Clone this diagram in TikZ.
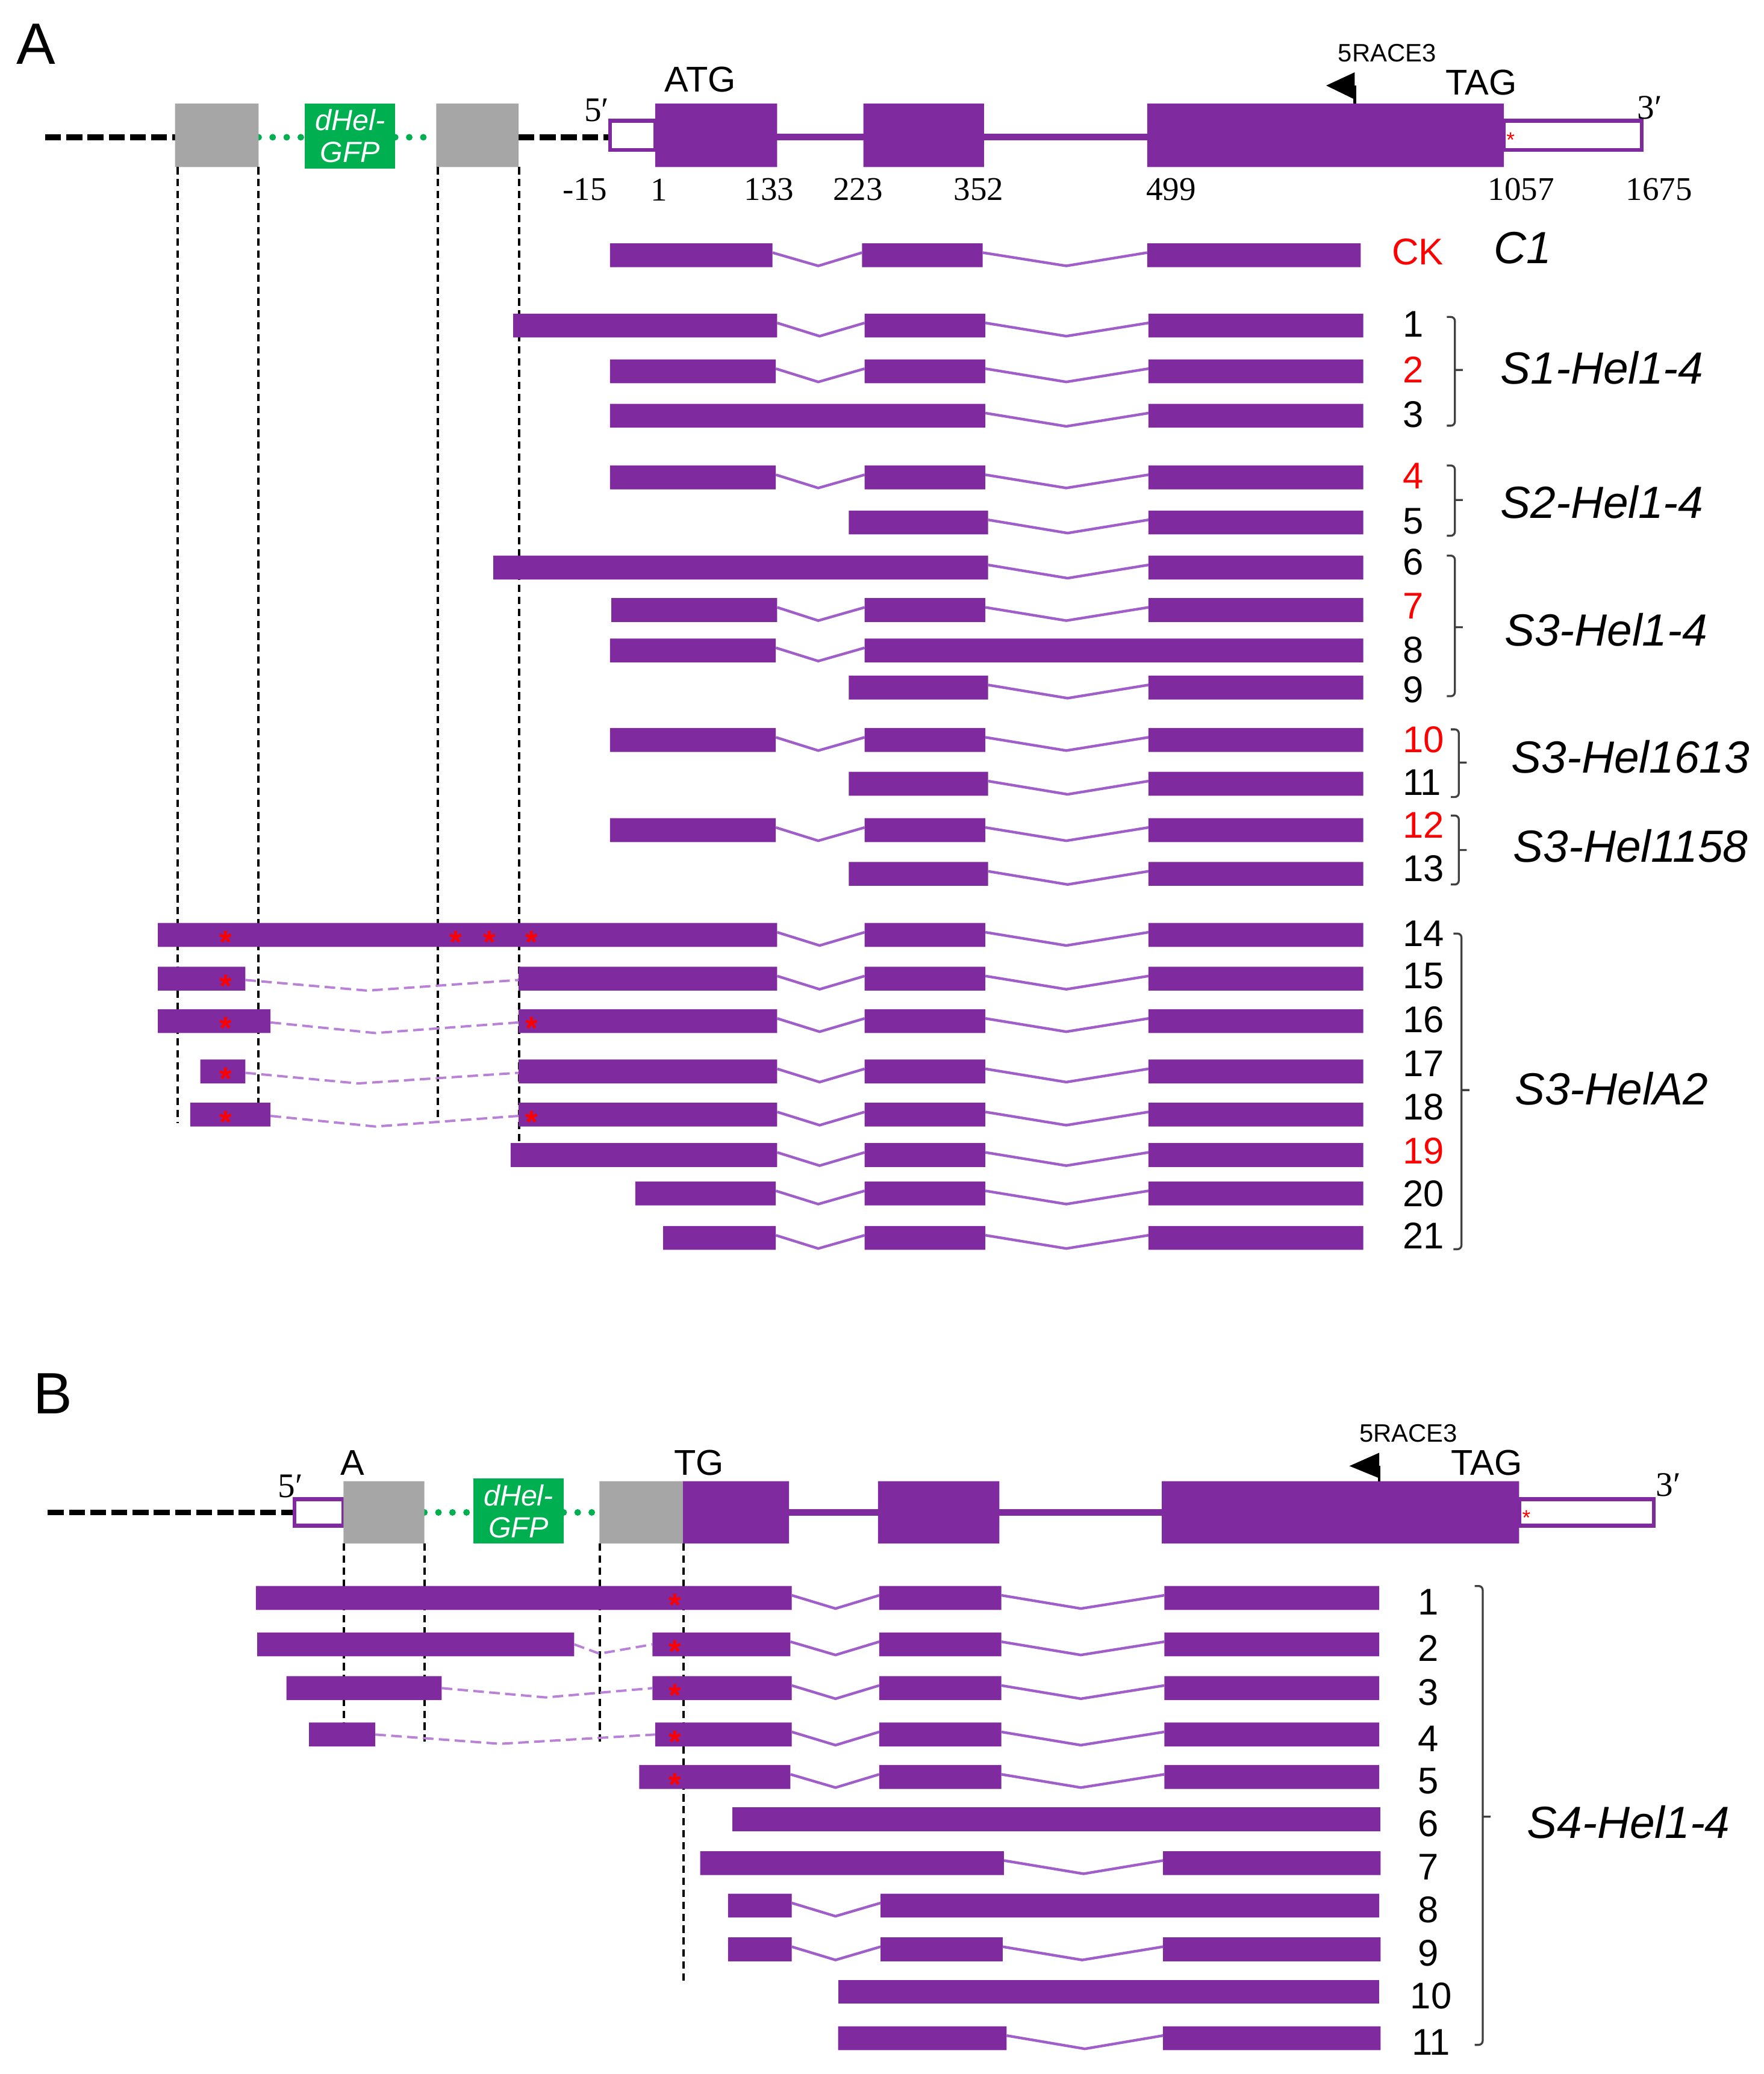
\documentclass[tikz,border=0pt]{standalone}
\usepackage{fontspec}
\setmainfont{Liberation Serif}
\setsansfont{Liberation Sans}

\definecolor{exonpurple}{RGB}{128,42,160}
\definecolor{intronpurple}{RGB}{160,95,200}
\definecolor{skippurple}{RGB}{185,130,215}
\definecolor{cassgrey}{RGB}{166,166,166}
\definecolor{gfpgreen}{RGB}{0,176,80}
\definecolor{markred}{RGB}{255,0,0}

\tikzset{every picture/.style={line width=0.75pt}}
\tikzset{
  exon/.style={fill=exonpurple},
  utr/.style={draw=exonpurple, line width=1.5pt, fill=white},
  geneline/.style={draw=exonpurple, line width=2.5pt},
  intron/.style={draw=intronpurple, line width=1pt},
  skipline/.style={draw=skippurple, line width=0.9pt, dash pattern={on 4pt off 2pt}},
  flank/.style={draw=black, line width=2.25pt, dash pattern={on 6pt off 2pt}},
  linker/.style={draw=gfpgreen, line width=2.5pt, line cap=round, dash pattern={on 0pt off 5.3pt}},
  guide/.style={draw=black, line width=0.9pt, dash pattern={on 2.75pt off 1.75pt}},
  brack/.style={draw=black!75, line width=0.75pt, rounded corners=1.5pt},
  rownum/.style={font=\sffamily\fontsize{14}{14}\selectfont, inner sep=0pt},
  grouplabel/.style={font=\sffamily\itshape\fontsize{17}{17}\selectfont, inner sep=0pt},
  postext/.style={font=\rmfamily\fontsize{12.5}{12.5}\selectfont, inner sep=0pt},
  endtext/.style={font=\rmfamily\fontsize{13}{13}\selectfont, inner sep=0pt},
  codon/.style={font=\sffamily\fontsize{13.5}{13.5}\selectfont, inner sep=0pt},
  primer/.style={font=\sffamily\fontsize{9.5}{9.5}\selectfont, inner sep=0pt},
  panel/.style={font=\sffamily\fontsize{22}{22}\selectfont, inner sep=0pt},
  gfptext/.style={font=\sffamily\itshape\fontsize{11}{12}\selectfont, text=white, align=center, inner sep=0pt},
  astmark/.style={font=\sffamily\bfseries\fontsize{12}{12}\selectfont, text=markred, inner sep=0pt, anchor=base},
  astsmall/.style={font=\sffamily\fontsize{8}{8}\selectfont, text=markred, inner sep=0pt, anchor=base}
}

\begin{document}
\begin{tikzpicture}[x=0.5pt,y=0.5pt,yscale=-1,xscale=1]
\useasboundingbox (0,0) rectangle (1330,1564);

%%%%%%%%%%%%%%%%%%%%%%%% Panel A
\node[panel] (panelA) at (27,33) {A};

%Gene model A
\draw[flank] (34,103.5) -- (132,103.5) (391,103.5) -- (460,103.5);
\draw[linker] (195,103.5) -- (230,103.5) (298,103.5) -- (329,103.5);
\fill[cassgrey] (132,78) rectangle (195,126) (329,78) rectangle (391,126);
\fill[gfpgreen] (230,78) rectangle (298,127);
\node[gfptext] (gfpA) at (264,102.5) {dHel-\\GFP};
\draw[utr] (460,91) rectangle (494,113);
\draw[geneline] (586,103.5) -- (651,103.5) (742,103.5) -- (865,103.5);
\fill[exon] (494,78) rectangle (586,126) (651,78) rectangle (742,126) (865,78) rectangle (1134,126);
\draw[utr] (1134,91) rectangle (1238,113);
\node[astsmall] (stopA) at (1139,111) {*};
%Primer arrow
\fill (1000,64.5) -- (1021.5,54.5) -- (1021.5,75) -- cycle;
\draw[line width=1pt] (1021.5,64.5) -- (1021.5,78);

% Text Node
\node[endtext] (p5A) at (450,83) {5′};
\node[endtext] (p3A) at (1244,81) {3′};
\node[codon] (atgA) at (528,60) {ATG};
\node[codon] (tagA) at (1117,62) {TAG};
\node[primer] (raceA) at (1046,40) {5RACE3};
\node[postext] (posA1) at (441,143) {-15};
\node[postext] (posA2) at (497,143) {1};
\node[postext] (posA3) at (580,143) {133};
\node[postext] (posA4) at (647,143) {223};
\node[postext] (posA5) at (738,143) {352};
\node[postext] (posA6) at (883,143) {499};
\node[postext] (posA7) at (1147,143) {1057};
\node[postext] (posA8) at (1251,143) {1675};

%Guide lines A
\draw[guide] (134,126) -- (134,847) (195,126) -- (195,847) (330,126) -- (330,847) (391.5,126) -- (391.5,877);

%CK
\fill[exon] (460,183.5) rectangle +(122.5,18) (650,183.5) rectangle +(91,18) (865,183.5) rectangle +(161,18);
\draw[intron] (582.5,190.5) -- +(34.5,10) -- +(67.5,0) (741,190.5) -- +(63,10) -- +(124,0);
%1
\fill[exon] (387,236.5) rectangle +(199,18) (652,236.5) rectangle +(91,18) (866,236.5) rectangle +(162,18);
\draw[intron] (586,243.5) -- +(32,10) -- +(66,0) (743,243.5) -- +(61,10) -- +(123,0);
%2
\fill[exon] (460,271) rectangle +(125,18) (652,271) rectangle +(91,18) (866,271) rectangle +(162,18);
\draw[intron] (585,278) -- +(32,10) -- +(67,0) (743,278) -- +(61,10) -- +(123,0);
%3
\fill[exon] (460,304.5) rectangle +(283,18) (866,304.5) rectangle +(162,18);
\draw[intron] (743,311.5) -- +(61,10) -- +(123,0);
%4
\fill[exon] (460,351) rectangle +(125,18) (652,351) rectangle +(91,18) (866,351) rectangle +(162,18);
\draw[intron] (585,358) -- +(32,10) -- +(67,0) (743,358) -- +(61,10) -- +(123,0);
%5
\fill[exon] (640,385) rectangle +(105,18) (866,385) rectangle +(162,18);
\draw[intron] (745,392) -- +(60,10) -- +(121,0);
%6
\fill[exon] (372,419) rectangle +(373,18) (866,419) rectangle +(162,18);
\draw[intron] (745,426) -- +(60,10) -- +(121,0);
%7
\fill[exon] (461,451) rectangle +(125,18) (652,451) rectangle +(91,18) (866,451) rectangle +(162,18);
\draw[intron] (586,458) -- +(31,10) -- +(66,0) (743,458) -- +(61,10) -- +(123,0);
%8
\fill[exon] (460,481.5) rectangle +(125,18) (652,481.5) rectangle +(376,18);
\draw[intron] (585,488.5) -- +(32,10) -- +(67,0);
%9
\fill[exon] (640,509.5) rectangle +(105,18) (866,509.5) rectangle +(162,18);
\draw[intron] (745,516.5) -- +(60,10) -- +(121,0);
%10
\fill[exon] (460,549) rectangle +(125,18) (652,549) rectangle +(91,18) (866,549) rectangle +(162,18);
\draw[intron] (585,556) -- +(32,10) -- +(67,0) (743,556) -- +(61,10) -- +(123,0);
%11
\fill[exon] (640,582) rectangle +(105,18) (866,582) rectangle +(162,18);
\draw[intron] (745,589) -- +(60,10) -- +(121,0);
%12
\fill[exon] (460,617) rectangle +(125,18) (652,617) rectangle +(91,18) (866,617) rectangle +(162,18);
\draw[intron] (585,624) -- +(32,10) -- +(67,0) (743,624) -- +(61,10) -- +(123,0);
%13
\fill[exon] (640,650) rectangle +(105,18) (866,650) rectangle +(162,18);
\draw[intron] (745,657) -- +(60,10) -- +(121,0);
%14
\fill[exon] (119,696) rectangle +(467,18) (652,696) rectangle +(91,18) (866,696) rectangle +(162,18);
\draw[intron] (586,703) -- +(32,10) -- +(66,0) (743,703) -- +(61,10) -- +(123,0);
\node[astmark] (a14a) at (170,718.8) {*};
\node[astmark] (a14b) at (343.5,718.8) {*};
\node[astmark] (a14c) at (369,718.8) {*};
\node[astmark] (a14d) at (401,718.8) {*};
%15
\fill[exon] (119,729) rectangle +(66,18) (391,729) rectangle +(195,18) (652,729) rectangle +(91,18) (866,729) rectangle +(162,18);
\draw[skipline] (185,739) -- (277,747) -- (391,739);
\draw[intron] (586,736) -- +(32,10) -- +(66,0) (743,736) -- +(61,10) -- +(123,0);
\node[astmark] (a15a) at (170,751.8) {*};
%16
\fill[exon] (119,761) rectangle +(85,18) (391,761) rectangle +(195,18) (652,761) rectangle +(91,18) (866,761) rectangle +(162,18);
\draw[skipline] (204,771) -- (283,779) -- (391,771);
\draw[intron] (586,768) -- +(32,10) -- +(66,0) (743,768) -- +(61,10) -- +(123,0);
\node[astmark] (a16a) at (170,783.8) {*};
\node[astmark] (a16b) at (401,783.8) {*};
%17
\fill[exon] (151,799) rectangle +(34,18) (391,799) rectangle +(195,18) (652,799) rectangle +(91,18) (866,799) rectangle +(162,18);
\draw[skipline] (185,809) -- (270,817) -- (391,809);
\draw[intron] (586,806) -- +(32,10) -- +(66,0) (743,806) -- +(61,10) -- +(123,0);
\node[astmark] (a17a) at (170,821.8) {*};
%18
\fill[exon] (143.5,831.5) rectangle +(60.5,18) (391,831.5) rectangle +(195,18) (652,831.5) rectangle +(91,18) (866,831.5) rectangle +(162,18);
\draw[skipline] (204,841.5) -- (283,849.5) -- (391,841.5);
\draw[intron] (586,838.5) -- +(32,10) -- +(66,0) (743,838.5) -- +(61,10) -- +(123,0);
\node[astmark] (a18a) at (170,854.3) {*};
\node[astmark] (a18b) at (401,854.3) {*};
%19
\fill[exon] (385,862) rectangle +(201,18) (652,862) rectangle +(91,18) (866,862) rectangle +(162,18);
\draw[intron] (586,869) -- +(32,10) -- +(66,0) (743,869) -- +(61,10) -- +(123,0);
%20
\fill[exon] (479,891) rectangle +(106,18) (652,891) rectangle +(91,18) (866,891) rectangle +(162,18);
\draw[intron] (585,898) -- +(32,10) -- +(67,0) (743,898) -- +(61,10) -- +(123,0);
%21
\fill[exon] (500,924.5) rectangle +(85,18) (652,924.5) rectangle +(91,18) (866,924.5) rectangle +(162,18);
\draw[intron] (585,931.5) -- +(32,10) -- +(67,0) (743,931.5) -- +(61,10) -- +(123,0);

% Text Node
\node[rownum, text=markred] (ckA) at (1069,190) {CK};
\node[grouplabel] (c1A) at (1148,187) {C1};
\node[rownum, anchor=west] (nA1) at (1057,244.5) {1};
\node[rownum, anchor=west, text=markred] (nA2) at (1057,279) {2};
\node[rownum, anchor=west] (nA3) at (1057,312.5) {3};
\node[rownum, anchor=west, text=markred] (nA4) at (1057,359) {4};
\node[rownum, anchor=west] (nA5) at (1057,393) {5};
\node[rownum, anchor=west] (nA6) at (1057,424) {6};
\node[rownum, anchor=west, text=markred] (nA7) at (1057,457) {7};
\node[rownum, anchor=west] (nA8) at (1057,490) {8};
\node[rownum, anchor=west] (nA9) at (1057,520) {9};
\node[rownum, anchor=west, text=markred] (nA10) at (1057,558) {10};
\node[rownum, anchor=west] (nA11) at (1057,590) {11};
\node[rownum, anchor=west, text=markred] (nA12) at (1057,622) {12};
\node[rownum, anchor=west] (nA13) at (1057,655) {13};
\node[rownum, anchor=west] (nA14) at (1057,704) {14};
\node[rownum, anchor=west] (nA15) at (1057,736) {15};
\node[rownum, anchor=west] (nA16) at (1057,769) {16};
\node[rownum, anchor=west] (nA17) at (1057,802) {17};
\node[rownum, anchor=west] (nA18) at (1057,835) {18};
\node[rownum, anchor=west, text=markred] (nA19) at (1057,868) {19};
\node[rownum, anchor=west] (nA20) at (1057,900) {20};
\node[rownum, anchor=west] (nA21) at (1057,932) {21};

%Brackets A
\draw[brack] (1091,239) -- (1097,239) -- (1097,321) -- (1091,321) (1097,279) -- (1103,279);
\draw[brack] (1091,351) -- (1097,351) -- (1097,404) -- (1091,404) (1097,377) -- (1103,377);
\draw[brack] (1091,419) -- (1097,419) -- (1097,525) -- (1091,525) (1097,473) -- (1103,473);
\draw[brack] (1094,550) -- (1100,550) -- (1100,601) -- (1094,601) (1100,575) -- (1106,575);
\draw[brack] (1094,615) -- (1100,615) -- (1100,667) -- (1094,667) (1100,641) -- (1106,641);
\draw[brack] (1096,704) -- (1102,704) -- (1102,942) -- (1096,942) (1102,822) -- (1108,822);
\node[grouplabel] (s1A) at (1208,277.5) {S1-Hel1-4};
\node[grouplabel] (s2A) at (1208,378.5) {S2-Hel1-4};
\node[grouplabel] (s3A) at (1211,475) {S3-Hel1-4};
\node[grouplabel] (s3bA) at (1229.5,570.5) {S3-Hel1613};
\node[grouplabel] (s3cA) at (1229.5,638) {S3-Hel1158};
\node[grouplabel] (s3dA) at (1215,821) {S3-HelA2};

%%%%%%%%%%%%%%%%%%%%%%%% Panel B
\node[panel] (panelB) at (40,1051) {B};

%Gene model B
\draw[flank] (36,1140.5) -- (222,1140.5);
\draw[linker] (320,1140.5) -- (357,1140.5) (425,1140.5) -- (452,1140.5);
\draw[utr] (222,1130.5) rectangle (259,1150.5);
\fill[cassgrey] (259,1117) rectangle (320,1164) (452,1117) rectangle (515,1164);
\fill[gfpgreen] (357,1115) rectangle (425,1164);
\node[gfptext] (gfpB) at (391,1139.5) {dHel-\\GFP};
\draw[geneline] (595,1140.5) -- (662,1140.5) (753.5,1140.5) -- (876,1140.5);
\fill[exon] (515,1117) rectangle (595,1164) (662,1117) rectangle (753.5,1164) (876,1117) rectangle (1145.5,1164);
\draw[utr] (1145.5,1130.5) rectangle (1247,1150.5);
\node[astsmall] (stopB) at (1151,1150) {*};
%Primer arrow
\fill (1017.5,1105.5) -- (1040,1095.5) -- (1040,1114.7) -- cycle;
\draw[line width=1pt] (1040,1105.5) -- (1040,1117);

% Text Node
\node[endtext] (p5B) at (219,1121) {5′};
\node[endtext] (p3B) at (1258,1120) {3′};
\node[codon] (aB) at (266,1103) {A};
\node[codon] (tgB) at (527,1103) {TG};
\node[codon] (tagB) at (1121,1103) {TAG};
\node[primer] (raceB) at (1062,1081) {5RACE3};

%Guide lines B
\draw[guide] (259.5,1164) -- (259.5,1314) (320,1164) -- (320,1314) (452.5,1164) -- (452.5,1314) (515.5,1164) -- (515.5,1496);

%1
\fill[exon] (193,1196) rectangle +(404,18) (663,1196) rectangle +(92,18) (878,1196) rectangle +(162,18);
\draw[intron] (597,1203) -- +(33,10) -- +(66,0) (755,1203) -- +(60,10) -- +(123,0);
\node[astmark] (b1a) at (509,1218.8) {*};
%2
\fill[exon] (194,1231) rectangle +(239,18) (492,1231) rectangle +(104,18) (663,1231) rectangle +(92,18) (878,1231) rectangle +(162,18);
\draw[skipline] (433,1240) -- (452,1247) -- (492,1240);
\draw[intron] (596,1238) -- +(34,10) -- +(67,0) (755,1238) -- +(60,10) -- +(123,0);
\node[astmark] (b2a) at (509,1253.8) {*};
%3
\fill[exon] (216,1264) rectangle +(117,18) (492,1264) rectangle +(105,18) (663,1264) rectangle +(92,18) (878,1264) rectangle +(162,18);
\draw[skipline] (333,1273) -- (411.5,1280) -- (492,1273);
\draw[intron] (597,1271) -- +(33,10) -- +(66,0) (755,1271) -- +(60,10) -- +(123,0);
\node[astmark] (b3a) at (509,1286.8) {*};
%4
\fill[exon] (233,1299) rectangle +(50,18) (494,1299) rectangle +(103,18) (663,1299) rectangle +(92,18) (878,1299) rectangle +(162,18);
\draw[skipline] (283,1308) -- (377,1315) -- (494,1308);
\draw[intron] (597,1306) -- +(33,10) -- +(66,0) (755,1306) -- +(60,10) -- +(123,0);
\node[astmark] (b4a) at (509,1321.8) {*};
%5
\fill[exon] (482,1331) rectangle +(114,18) (663,1331) rectangle +(92,18) (878,1331) rectangle +(162,18);
\draw[intron] (596,1338) -- +(34,10) -- +(67,0) (755,1338) -- +(60,10) -- +(123,0);
\node[astmark] (b5a) at (509,1353.8) {*};
%6
\fill[exon] (552,1363) rectangle +(489,18);
%7
\fill[exon] (528,1396) rectangle +(229,18) (877,1396) rectangle +(164,18);
\draw[intron] (757,1403) -- +(60,10) -- +(120,0);
%8
\fill[exon] (549,1428) rectangle +(48,18) (664,1428) rectangle +(376,18);
\draw[intron] (597,1435) -- +(33,10) -- +(67,0);
%9
\fill[exon] (549,1461) rectangle +(48,18) (664,1461) rectangle +(92,18) (877,1461) rectangle +(164,18);
\draw[intron] (597,1468) -- +(33,10) -- +(67,0) (756,1468) -- +(60,10) -- +(121,0);
%10
\fill[exon] (632,1493) rectangle +(408,18);
%11
\fill[exon] (632,1528) rectangle +(127,18) (877,1528) rectangle +(164,18);
\draw[intron] (759,1535) -- +(59,10) -- +(118,0);

% Text Node
\node[rownum] (nB1) at (1077,1208) {1};
\node[rownum] (nB2) at (1077,1243) {2};
\node[rownum] (nB3) at (1077,1276) {3};
\node[rownum] (nB4) at (1077,1311) {4};
\node[rownum] (nB5) at (1077,1343) {5};
\node[rownum] (nB6) at (1077,1375) {6};
\node[rownum] (nB7) at (1077,1408) {7};
\node[rownum] (nB8) at (1077,1440) {8};
\node[rownum] (nB9) at (1077,1473) {9};
\node[rownum] (nB10) at (1079,1505) {10};
\node[rownum] (nB11) at (1079,1540) {11};

%Bracket B
\draw[brack] (1112,1196) -- (1118,1196) -- (1118,1542) -- (1112,1542) (1118,1370) -- (1124,1370);
\node[grouplabel] (s4B) at (1228,1374) {S4-Hel1-4};

\end{tikzpicture}
\end{document}
